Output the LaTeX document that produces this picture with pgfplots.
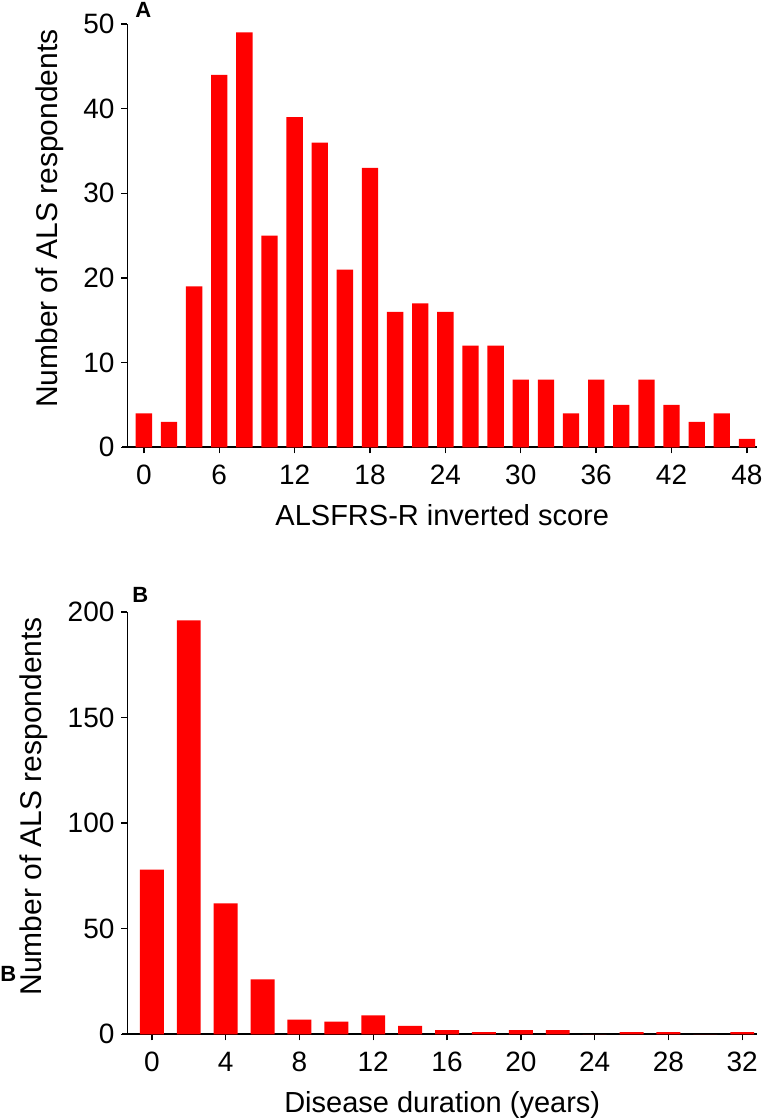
\documentclass[border=0pt]{standalone}
\usepackage{pgfplots}
\pgfplotsset{compat=1.18}
\usepackage{fontspec}
\setmainfont{Liberation Sans}
\definecolor{barred}{RGB}{255,0,0}

\pgfplotsset{
  alsbars/.style={
    scale only axis,
    width=314.75pt,
    axis x line*=bottom,
    axis y line*=left,
    x axis line style={line width=0.9pt, shorten <=-2.5pt},
    y axis line style={line width=0.7pt},
    tick style={black, line width=0.7pt},
    tick align=outside,
    major tick length=3pt,
    ymin=0,
    /pgf/number format/assume math mode=true,
    ticklabel style={font=\fontsize{14}{16}\selectfont},
    xlabel style={font=\fontsize{14.5}{17}\selectfont},
    ylabel style={font=\fontsize{15}{18}\selectfont, at={(ticklabel cs:0.54)}},
    ylabel shift=3pt,
    xticklabel shift=2.5pt,
    xlabel shift=3pt,
    ybar, bar width=1.3, bar shift=0pt,
  },
  redbar/.style={fill=barred, draw=none},
}

\begin{document}
\begin{tikzpicture}
\useasboundingbox (-63.75pt,-335.85pt) rectangle (318.75pt,223.65pt);

% A: ALSFRS-R inverted score
\begin{axis}[alsbars,
  at={(0pt,0pt)}, anchor=south west,
  height=211.65pt,
  xmin=-1.3, xmax=48.8,
  ymax=50,
  xtick={0,6,...,48},
  ytick={0,10,...,50},
  xlabel={ALSFRS-R inverted score},
  ylabel={Number of ALS respondents},
]
\addplot[redbar] coordinates {
  (0,4) (2,3) (4,19) (6,44) (8,49) (10,25) (12,39) (14,36) (16,21)
  (18,33) (20,16) (22,17) (24,16) (26,12) (28,12) (30,8) (32,8)
  (34,4) (36,8) (38,5) (40,8) (42,5) (44,3) (46,4) (48,1)
};
\end{axis}
\node[anchor=south west, inner sep=0pt, font=\fontsize{11}{13}\selectfont\bfseries] at (3.75pt,211.65pt+3pt) {A};

% B: disease duration
\begin{axis}[alsbars,
  at={(0pt,-293.5pt)}, anchor=south west,
  height=211.15pt,
  xmin=-1.32, xmax=32.8,
  ymax=200,
  xtick={0,4,...,32},
  ytick={0,50,...,200},
  xlabel={Disease duration (years)},
  ylabel={Number of ALS respondents},
]
\addplot[redbar] coordinates {
  (0,78) (2,196) (4,62) (6,26) (8,7) (10,6) (12,9) (14,4) (16,2)
  (18,1) (20,2) (22,2) (24,0) (26,1) (28,1) (30,0) (32,1)
};
\end{axis}
\node[anchor=south west, inner sep=0pt, font=\fontsize{11}{13}\selectfont\bfseries] at (2.25pt,-293.5pt+211.15pt+4.5pt) {B};
\node[anchor=south west, inner sep=0pt, font=\fontsize{11}{13}\selectfont\bfseries] at (-63.75pt,-293.5pt+26pt) {B};
\end{tikzpicture}
\end{document}
